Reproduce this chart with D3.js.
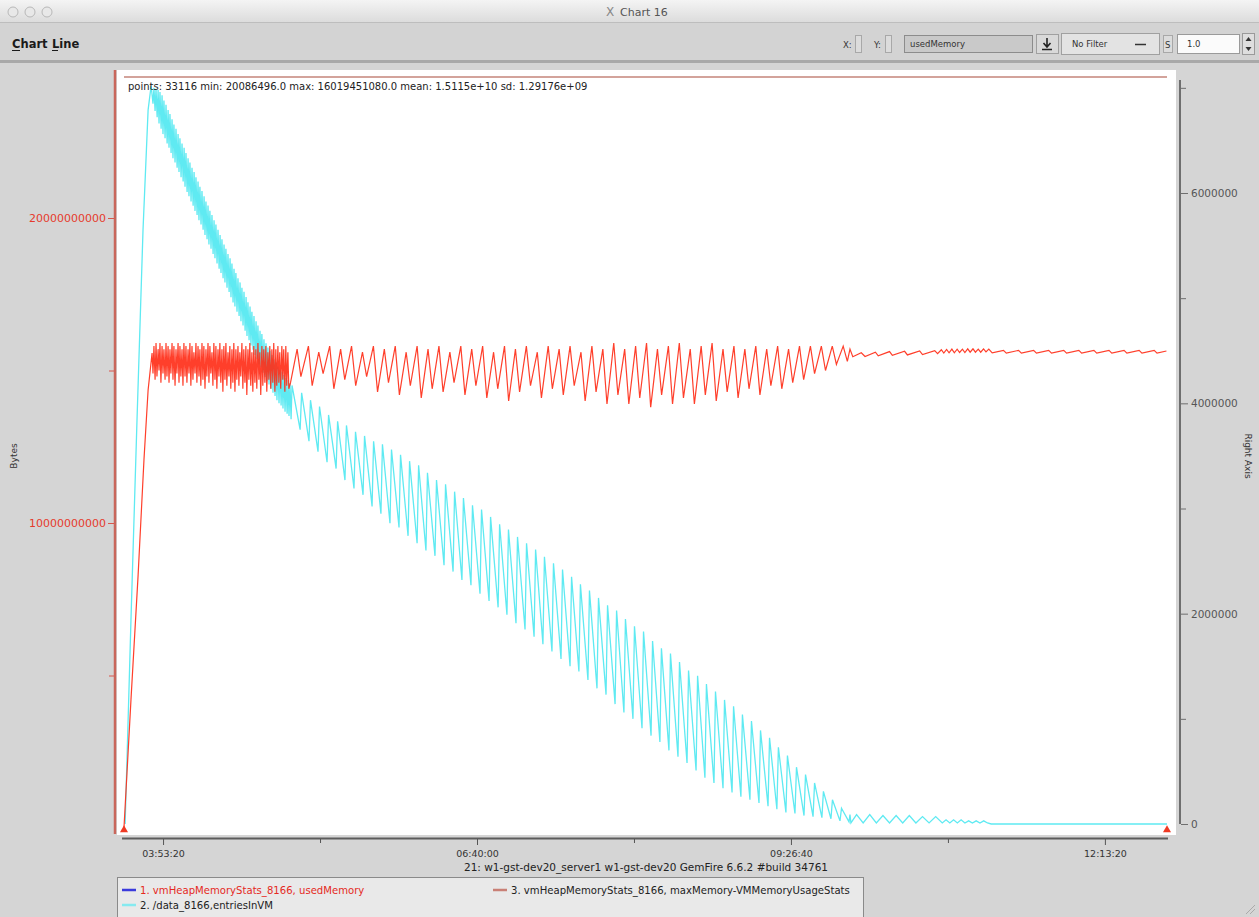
<!DOCTYPE html>
<html>
<head>
<meta charset="utf-8">
<script src="https://cdn.jsdelivr.net/npm/d3@7"></script>
<style>
body { margin: 0; background: #d5d5d5; overflow: hidden; }
text { font-family: "DejaVu Sans", sans-serif; }
</style>
</head>
<body>
<script>
var W = 1259, H = 917;

// time in minutes after midnight, chart start / end
var timeRange = [212.6, 766.3];

// series 1: usedMemory, [minutes, bytes / 1e9]
var usedMemory = [
  [212.6,0.02],[216.3,4.2],[220.1,8.3],[223.2,12.07],[225.4,14.36],[227.5,15.57],
  [228.0,14.9],[228.5,15.8],[229.1,14.7],[229.6,15.9],[230.1,14.8],[230.7,15.7],[231.2,15.0],[231.7,15.9],
  [232.2,14.6],[232.8,15.8],[233.3,14.9],[233.8,15.7],[234.4,14.7],[234.9,15.9],[235.4,14.8],[236.0,15.8],
  [236.5,14.6],[237.0,15.7],[237.5,14.9],[238.1,15.9],[238.6,14.7],[239.1,15.8],[239.7,14.5],[240.2,15.7],
  [240.7,14.9],[241.3,15.9],[241.8,14.6],[242.3,15.8],[242.8,14.8],[243.4,15.7],[243.9,14.5],[244.4,15.9],
  [245.0,14.8],[245.5,15.8],[246.0,14.6],[246.6,15.7],[247.1,14.9],[247.6,15.9],[248.1,14.5],[248.7,15.8],
  [249.2,14.7],[249.7,15.6],[250.3,14.9],[250.8,15.9],[251.3,14.6],[251.9,15.8],[252.4,14.8],[252.9,15.7],
  [253.4,14.5],[254.0,15.9],[254.5,14.7],[255.0,15.8],[255.6,14.4],[256.1,15.7],[256.6,14.8],[257.2,15.9],
  [257.7,14.6],[258.2,15.8],[258.7,14.9],[259.3,15.6],[259.8,14.5],[260.3,15.9],[260.9,14.7],[261.4,15.8],
  [261.9,14.4],[262.5,15.7],[263.0,14.8],[263.5,15.9],[264.0,14.6],[264.6,15.7],[265.1,14.3],[265.6,15.8],
  [266.2,14.7],[266.7,15.9],[267.2,14.5],[267.8,15.6],[268.3,14.8],[268.8,15.8],[269.3,14.4],[269.9,15.7],
  [270.4,14.6],[270.9,15.9],[271.5,14.3],[272.0,15.7],[272.5,14.7],[273.1,15.8],[273.6,14.5],[274.1,15.6],
  [274.6,14.8],[275.2,15.9],[275.7,14.4],[276.2,15.7],[276.8,14.6],[277.3,15.8],[277.8,14.2],[278.4,15.7],
  [278.9,14.7],[279.4,15.9],[279.9,14.5],[280.5,15.6],[281.0,14.3],[281.5,15.8],[282.1,14.6],[282.6,15.7],
  [283.1,14.4],[283.7,15.9],[284.2,14.7],[284.7,15.6],[285.2,14.2],[285.8,15.8],[286.3,14.5],[286.8,15.7],
  [287.4,14.6],[287.9,15.8],[288.4,14.3],[289.0,15.6],[289.5,14.7],[290.0,15.8],[290.5,14.4],[291.1,15.7],
  [291.6,14.6],[292.1,15.9],[292.7,14.3],[293.2,15.7],[293.7,14.5],[294.3,15.8],[294.8,14.6],[295.3,15.6],
  [295.8,14.4],[296.4,15.8],[296.9,14.7],[297.4,15.7],[298.0,14.3],[298.5,15.8],[299.0,14.5],[299.6,15.6],
  [300.1,14.4],
  [301.0,14.6],[304.5,15.7],[306.5,14.8],[310.5,15.8],[312.5,14.5],[316.0,15.6],[318.3,14.9],[321.8,15.8],
  [324.0,14.4],[327.6,15.7],[329.8,14.7],[333.4,15.8],[335.6,14.5],[339.2,15.6],[341.4,14.8],[345.0,15.8],
  [347.2,14.3],[350.8,15.7],[353.0,14.6],[356.6,15.8],[358.8,14.2],[362.4,15.6],[364.6,14.5],[368.2,15.8],
  [370.4,14.1],[374.0,15.7],[376.2,14.4],[379.8,15.8],[382.0,14.3],[385.6,15.6],[387.8,14.6],[391.4,15.8],
  [393.6,14.2],[397.2,15.7],[399.4,14.5],[403.0,15.8],[405.2,14.1],[408.8,15.6],[411.0,14.4],[414.6,15.8],
  [416.8,14.0],[420.4,15.7],[422.6,14.3],[426.2,15.8],[428.4,14.5],[432.0,15.6],[434.2,14.1],[437.8,15.8],
  [440.0,14.4],[443.6,15.7],[445.8,14.2],[449.4,15.8],[451.6,14.5],[455.2,15.6],[457.4,14.0],[461.0,15.8],
  [463.2,14.3],[466.8,15.7],[469.0,13.9],[472.6,15.9],[474.8,14.2],[478.4,15.7],[480.6,13.9],[484.2,15.8],
  [486.4,14.1],[490.0,15.9],[492.2,13.8],[495.8,15.7],[498.0,14.2],[501.6,15.8],[503.8,13.9],[507.4,15.9],
  [509.6,14.1],[513.2,15.7],[515.4,13.9],[519.0,15.8],[521.2,14.2],[524.8,15.9],[527.0,14.0],[530.6,15.7],
  [532.8,14.3],[536.4,15.8],[538.6,14.1],[542.2,15.7],[544.4,14.4],[548.0,15.8],[550.2,14.2],[553.8,15.7],
  [556.0,14.5],[559.6,15.8],[561.8,14.4],[565.4,15.7],[567.6,14.6],[571.2,15.8],[573.4,14.7],[577.0,15.8],
  [579.2,14.9],[582.8,15.8],[585.0,15.0],[588.6,15.8],[590.8,15.2],[594.4,15.8],[596.6,15.3],[598.0,15.7],
  [599.5,15.45],[604.0,15.58],[606.0,15.46],[611.5,15.6],[613.0,15.48],[619.0,15.62],[620.5,15.5],[627.0,15.63],
  [628.5,15.51],[635.0,15.64],[636.5,15.52],[643.0,15.65],[644.5,15.55],
  [646.5,15.68],[647.8,15.57],[649.3,15.69],[650.6,15.58],[652.1,15.7],[653.4,15.58],[654.9,15.7],[656.2,15.59],
  [657.7,15.7],[659.0,15.59],[660.5,15.71],[661.8,15.6],[663.3,15.71],[664.6,15.6],[666.1,15.7],[667.4,15.6],
  [668.9,15.71],[670.2,15.61],[671.7,15.7],
  [673.5,15.58],[679.5,15.66],[681.0,15.57],[687.5,15.66],[689.0,15.57],[695.5,15.66],[697.0,15.57],[703.5,15.66],
  [705.0,15.57],[711.5,15.66],[713.0,15.57],[719.5,15.66],[721.0,15.57],[727.5,15.66],[729.0,15.57],[735.5,15.66],
  [737.0,15.57],[743.5,15.66],[745.0,15.57],[751.5,15.66],[753.0,15.57],[759.5,15.66],[761.0,15.57],[766.0,15.64]
];

// series 2: entriesInVM, [minutes, entries / 1e6]  (right axis)
var entriesInVM = [
  [213.2,0],[216.3,1.94],[219.5,3.84],[222.7,5.65],[225.4,6.79],[227.0,7.02],
  [228.0,6.85],[228.5,7.00],[229.1,6.78],[229.6,6.99],[230.2,6.72],[230.7,6.98],[231.2,6.66],[231.7,6.96],
  [232.3,6.61],[232.8,6.93],[233.3,6.56],[233.8,6.88],[234.4,6.52],[234.9,6.84],[235.5,6.47],[236.0,6.79],
  [236.5,6.43],[237.0,6.75],[237.6,6.38],[238.1,6.70],[238.6,6.33],[239.1,6.65],[239.7,6.29],[240.2,6.61],
  [240.8,6.24],[241.3,6.56],[241.8,6.20],[242.3,6.52],[242.9,6.15],[243.4,6.47],[244.0,6.11],[244.5,6.43],
  [245.0,6.06],[245.5,6.38],[246.1,6.01],[246.6,6.33],[247.1,5.97],[247.6,6.29],[248.2,5.92],[248.7,6.24],
  [249.3,5.88],[249.8,6.20],[250.3,5.83],[250.8,6.15],[251.4,5.79],[251.9,6.11],[252.4,5.74],[252.9,6.06],
  [253.5,5.70],[254.0,6.02],[254.6,5.65],[255.1,5.97],[255.6,5.60],[256.1,5.92],[256.7,5.56],[257.2,5.88],
  [257.7,5.51],[258.2,5.83],[258.8,5.47],[259.3,5.79],[259.9,5.42],[260.4,5.74],[260.9,5.38],[261.4,5.70],
  [262.0,5.33],[262.5,5.65],[263.1,5.28],[263.6,5.60],[264.1,5.24],[264.6,5.56],[265.2,5.19],[265.7,5.51],
  [266.2,5.15],[266.7,5.47],[267.3,5.10],[267.8,5.42],[268.4,5.06],[268.9,5.38],[269.4,5.01],[269.9,5.33],
  [270.5,4.96],[271.0,5.28],[271.5,4.92],[272.0,5.24],[272.6,4.87],[273.1,5.19],[273.7,4.83],[274.2,5.15],
  [274.7,4.78],[275.2,5.10],[275.8,4.74],[276.3,5.06],[276.9,4.69],[277.4,5.01],[277.9,4.64],[278.4,4.96],
  [279.0,4.60],[279.5,4.92],[280.0,4.55],[280.5,4.87],[281.1,4.51],[281.6,4.83],[282.2,4.46],[282.7,4.78],
  [283.2,4.42],[283.7,4.74],[284.3,4.37],[284.8,4.69],[285.3,4.34],[285.8,4.66],[286.4,4.29],[286.9,4.61],
  [287.5,4.25],[288.0,4.57],[288.5,4.21],[289.0,4.53],[289.6,4.18],[290.1,4.50],[290.7,4.14],[291.2,4.46],
  [291.7,4.10],[292.2,4.42],[292.8,4.07],[293.3,4.39],[293.8,4.03],[294.3,4.35],[294.9,4.00],[295.4,4.32],
  [296.0,3.98],[296.5,4.30],[297.0,3.95],[297.5,4.27],[298.1,3.92],[298.6,4.24],[299.2,3.90],[299.7,4.22],
  [300.2,3.88],[300.7,4.19],[301.3,3.85],[301.8,4.17],
  [306.1,3.75],[306.9,4.10],[310.8,3.64],[311.6,4.03],[315.6,3.54],[316.4,3.97],[320.4,3.44],[321.2,3.89],
  [325.2,3.38],[326.0,3.83],[329.9,3.27],[330.7,3.79],[334.7,3.19],[335.5,3.73],[339.5,3.13],[340.3,3.69],
  [344.3,3.02],[345.1,3.64],[349.0,2.95],[349.8,3.61],[353.8,2.86],[354.6,3.56],[358.6,2.82],[359.4,3.51],
  [363.4,2.74],[364.2,3.45],[368.2,2.67],[369.0,3.41],[372.9,2.60],[373.7,3.34],[377.7,2.55],[378.5,3.27],
  [382.5,2.46],[383.3,3.23],[387.3,2.40],[388.1,3.16],[392.0,2.32],[392.8,3.10],[396.8,2.27],[397.6,3.03],
  [401.6,2.19],[402.4,2.99],[406.4,2.12],[407.2,2.92],[411.2,2.06],[412.0,2.85],[415.9,1.99],[416.7,2.80],
  [420.7,1.91],[421.5,2.73],[425.5,1.85],[426.3,2.67],[430.3,1.78],[431.1,2.61],[435.0,1.71],[435.8,2.54],
  [439.8,1.64],[440.6,2.48],[444.6,1.57],[445.4,2.42],[449.4,1.50],[450.2,2.35],[454.1,1.45],[454.9,2.28],
  [458.9,1.37],[459.7,2.22],[463.7,1.29],[464.5,2.15],[468.5,1.23],[469.3,2.08],[473.3,1.14],[474.1,2.03],
  [478.0,1.06],[478.8,1.95],[482.8,1.00],[483.6,1.88],[487.6,0.91],[488.4,1.83],[492.4,0.84],[493.2,1.74],
  [497.1,0.78],[497.9,1.67],[501.9,0.70],[502.7,1.62],[506.7,0.64],[507.5,1.54],[511.5,0.58],[512.3,1.46],
  [516.3,0.51],[517.1,1.41],[521.0,0.44],[521.8,1.33],[525.8,0.39],[526.6,1.26],[530.6,0.34],[531.4,1.18],
  [535.4,0.30],[536.2,1.12],[540.1,0.26],[540.9,1.04],[544.9,0.23],[545.7,0.98],[549.7,0.20],[550.5,0.89],
  [554.5,0.17],[555.3,0.82],[559.2,0.14],[560.0,0.73],[564.0,0.11],[564.8,0.65],[568.8,0.10],[569.6,0.54],
  [573.6,0.08],[574.4,0.47],[578.4,0.07],[579.2,0.39],[583.1,0.06],[583.9,0.31],[587.9,0.05],[588.7,0.23],
  [592.7,0.03],[593.5,0.15],[597.5,0.02],[598.0,0.09],
  [598.5,0.01],[601.5,0.09],[605.0,0.01],[608.5,0.09],[612.0,0.01],[615.5,0.08],[619.0,0.01],[622.5,0.08],
  [626.0,0.01],[629.5,0.08],[633.0,0.01],[636.5,0.07],[640.0,0.01],[643.5,0.07],[647.0,0.01],
  [649.0,0.04],[651.0,0.01],[653.0,0.04],[655.0,0.01],[657.0,0.04],[659.0,0.01],[661.0,0.03],[663.0,0.01],
  [665.0,0.03],[667.0,0.01],[669.0,0.03],[671.0,0.01],[673.0,0],[766.3,0]
];

// series 3: maxMemory, [minutes, bytes / 1e9]
var maxMemory = [[212.6,24.62],[766.3,24.62]];

var leftTicks = [10000000000, 20000000000];
var leftMinor = [5000000000, 15000000000];
var rightTicks = [0, 2000000, 4000000, 6000000];
var rightMinor = [1000000, 3000000, 5000000, 7000000];
var xTicks = ['03:53:20', '06:40:00', '09:26:40', '12:13:20'];
var xMinor = ['05:16:40', '08:03:20', '10:50:00'];

var legendItems = [
  {label: '1. vmHeapMemoryStats_8166, usedMemory', swatch: '#3b3bdc', text: '#e52a1e', col: 0, row: 0},
  {label: '2. /data_8166,entriesInVM', swatch: '#86eaf0', text: '#222', col: 0, row: 1},
  {label: '3. vmHeapMemoryStats_8166, maxMemory-VMMemoryUsageStats', swatch: '#c98076', text: '#222', col: 1, row: 0}
];

var statsText = 'points: 33116 min: 20086496.0 max: 16019451080.0 mean: 1.5115e+10 sd: 1.29176e+09';
var footerText = '21: w1-gst-dev20_server1 w1-gst-dev20 GemFire 6.6.2 #build 34761';

function toMinutes(s) {
  var p = s.split(':').map(Number);
  return p[0] * 60 + p[1] + p[2] / 60;
}

var svg = d3.select('body').append('svg')
  .attr('width', W)
  .attr('height', H);

// ---- window chrome ----
var grad = svg.append('defs').append('linearGradient')
  .attr('id', 'tbar').attr('x1', 0).attr('y1', 0).attr('x2', 0).attr('y2', 1);
grad.append('stop').attr('offset', 0).attr('stop-color', '#f4f4f4');
grad.append('stop').attr('offset', 1).attr('stop-color', '#dcdcdc');

svg.append('rect').attr('x', 0).attr('y', 0).attr('width', W).attr('height', 22).attr('fill', 'url(#tbar)');
svg.selectAll('circle.light')
  .data([13, 30, 47])
  .enter()
  .append('circle')
  .attr('class', 'light')
  .attr('cx', function(d){ return d; })
  .attr('cy', 12)
  .attr('r', 5)
  .attr('fill', '#e8e8e8')
  .attr('stroke', '#b8b8b8');
svg.append('text').attr('x', 606).attr('y', 16).attr('font-family', 'DejaVu Serif')
  .attr('font-size', 12).attr('fill', '#888').text('X');
svg.append('text').attr('x', 620).attr('y', 16).attr('font-size', 11).attr('fill', '#555').text('Chart 16');

svg.append('rect').attr('x', 0).attr('y', 22).attr('width', W).attr('height', 40).attr('fill', '#d3d3d3');
svg.append('line').attr('x1', 0).attr('x2', W).attr('y1', 22.5).attr('y2', 22.5).attr('stroke', '#bdbdbd');
svg.append('rect').attr('x', 0).attr('y', 60).attr('width', W).attr('height', 3).attr('fill', '#a9a9a9');

var menu = [['Chart', 12, 8], ['Line', 52, 6]];
menu.forEach(function(m){
  svg.append('text').attr('x', m[1]).attr('y', 48)
    .attr('font-family', 'Liberation Sans, Arial').attr('font-weight', 'bold')
    .attr('font-size', 11.5).attr('fill', '#1a1a1a').text(m[0]);
  svg.append('line').attr('x1', m[1]).attr('x2', m[1] + m[2]).attr('y1', 50.5).attr('y2', 50.5)
    .attr('stroke', '#1a1a1a');
});

// toolbar controls on the right
var tb = svg.append('g').attr('font-size', 8.5).attr('fill', '#333');
tb.append('text').attr('x', 843).attr('y', 48).text('X:');
tb.append('rect').attr('x', 855.5).attr('y', 35.5).attr('width', 6).attr('height', 17).attr('fill', '#dcdcdc').attr('stroke', '#a8a8a8');
tb.append('text').attr('x', 874).attr('y', 48).text('Y:');
tb.append('rect').attr('x', 885.5).attr('y', 35.5).attr('width', 6).attr('height', 17).attr('fill', '#dcdcdc').attr('stroke', '#a8a8a8');
tb.append('rect').attr('x', 904.5).attr('y', 35.5).attr('width', 128).attr('height', 17).attr('fill', '#c9c9c9').attr('stroke', '#8c8c8c');
tb.append('text').attr('x', 910).attr('y', 47).text('usedMemory');
tb.append('rect').attr('x', 1036.5).attr('y', 34.5).attr('width', 22).attr('height', 19).attr('fill', '#d9d9d9').attr('stroke', '#a0a0a0');
tb.append('path').attr('d', 'M1047,38 v8 M1043.5,43 l3.5,4 l3.5,-4 M1042,49.5 h10').attr('stroke', '#222').attr('stroke-width', 1.6).attr('fill', 'none');
tb.append('rect').attr('x', 1061.5).attr('y', 33.5).attr('width', 98).attr('height', 21).attr('fill', '#e3e3e3').attr('stroke', '#a0a0a0');
tb.append('text').attr('x', 1072).attr('y', 47).text('No Filter');
tb.append('line').attr('x1', 1135).attr('x2', 1146).attr('y1', 44.5).attr('y2', 44.5).attr('stroke', '#333').attr('stroke-width', 1.5);
tb.append('rect').attr('x', 1163.5).attr('y', 35.5).attr('width', 9).attr('height', 17).attr('fill', '#dcdcdc').attr('stroke', '#a8a8a8');
tb.append('text').attr('x', 1165).attr('y', 48).text('S');
tb.append('rect').attr('x', 1177.5).attr('y', 34.5).attr('width', 62).attr('height', 19).attr('fill', '#fbfbfb').attr('stroke', '#9a9a9a');
tb.append('text').attr('x', 1187).attr('y', 47).text('1.0');
tb.append('rect').attr('x', 1242.5).attr('y', 33.5).attr('width', 12).attr('height', 21).attr('fill', '#dedede').attr('stroke', '#9a9a9a');
tb.append('path').attr('d', 'M1245.5,41 l3,-4 l3,4 z M1245.5,47 l3,4 l3,-4 z').attr('fill', '#333');

// ---- plot area ----
var x = d3.scaleLinear().domain(timeRange).range([124, 1167]);
var yLeft = d3.scaleLinear().domain([0, 20000000000]).range([828, 218]);
var yRight = d3.scaleLinear().domain([0, 6000000]).range([824, 193]);

svg.append('rect').attr('x', 117).attr('y', 70).attr('width', 1059).attr('height', 765).attr('fill', '#ffffff');

var lineLeft = d3.line()
  .x(function(d){ return x(d[0]); })
  .y(function(d){ return yLeft(d[1] * 1e9); });
var lineRight = d3.line()
  .x(function(d){ return x(d[0]); })
  .y(function(d){ return yRight(d[1] * 1e6); });

svg.append('path').datum(maxMemory)
  .attr('d', lineLeft).attr('fill', 'none').attr('stroke', '#c4857a').attr('stroke-width', 1.5);

svg.append('path').datum(entriesInVM)
  .attr('d', lineRight).attr('fill', 'none').attr('stroke', '#5feaf2').attr('stroke-width', 1.3);

svg.append('path').datum(usedMemory)
  .attr('d', lineLeft).attr('fill', 'none').attr('stroke', '#ff2a14').attr('stroke-width', 1.2)
  .attr('stroke-opacity', 0.9);

svg.append('text').attr('x', 128).attr('y', 90).attr('font-size', 10).attr('fill', '#222').text(statsText);

// range markers
svg.selectAll('path.marker')
  .data(timeRange)
  .enter()
  .append('path')
  .attr('class', 'marker')
  .attr('d', d3.symbol().type(d3.symbolTriangle).size(28))
  .attr('transform', function(d){ return 'translate(' + x(d) + ',830)'; })
  .attr('fill', '#ef3a24');

// ---- left axis ----
svg.append('line').attr('x1', 115).attr('x2', 115).attr('y1', 70).attr('y2', 834)
  .attr('stroke', '#c9675c').attr('stroke-width', 2.5);

var gl = svg.append('g').attr('transform', 'translate(114,0)')
  .call(d3.axisLeft(yLeft).tickValues(leftTicks).tickSize(6).tickPadding(2).tickFormat(d3.format('d')));
gl.select('.domain').remove();
gl.selectAll('line').attr('stroke', '#d9574c');
gl.selectAll('text').attr('fill', '#e53a2c').attr('font-size', 11).attr('font-family', 'DejaVu Sans');

var glm = svg.append('g').attr('transform', 'translate(114,0)')
  .call(d3.axisLeft(yLeft).tickValues(leftMinor).tickSize(5).tickFormat(''));
glm.select('.domain').remove();
glm.selectAll('line').attr('stroke', '#d9574c');

svg.append('text').attr('transform', 'translate(17,456) rotate(-90)')
  .attr('text-anchor', 'middle').attr('font-size', 9).attr('fill', '#333').text('Bytes');

// ---- right axis ----
svg.append('line').attr('x1', 1180).attr('x2', 1180).attr('y1', 80).attr('y2', yRight(0))
  .attr('stroke', '#6e6e6e').attr('stroke-width', 2);

var gr = svg.append('g').attr('transform', 'translate(1181,0)')
  .call(d3.axisRight(yRight).tickValues(rightTicks).tickSize(7).tickPadding(3).tickFormat(d3.format('d')));
gr.select('.domain').remove();
gr.selectAll('line').attr('stroke', '#6e6e6e');
gr.selectAll('text').attr('fill', '#555').attr('font-size', 10.5).attr('font-family', 'DejaVu Sans');

var grm = svg.append('g').attr('transform', 'translate(1181,0)')
  .call(d3.axisRight(yRight).tickValues(rightMinor).tickSize(5).tickFormat(''));
grm.select('.domain').remove();
grm.selectAll('line').attr('stroke', '#6e6e6e');

svg.append('text').attr('transform', 'translate(1245,456) rotate(90)')
  .attr('text-anchor', 'middle').attr('font-size', 9).attr('fill', '#333').text('Right Axis');

// ---- bottom axis ----
svg.append('line').attr('x1', 122).attr('x2', 1168).attr('y1', 838.5).attr('y2', 838.5)
  .attr('stroke', '#5c5c5c').attr('stroke-width', 2);

var gx = svg.append('g').attr('transform', 'translate(0,839)')
  .call(d3.axisBottom(x).tickValues(xTicks.map(toMinutes)).tickSize(6).tickPadding(5)
    .tickFormat(function(d, i){ return xTicks[i]; }));
gx.select('.domain').remove();
gx.selectAll('line').attr('stroke', '#555');
gx.selectAll('text').attr('fill', '#333').attr('font-size', 9.5).attr('font-family', 'DejaVu Sans');

var gxm = svg.append('g').attr('transform', 'translate(0,839)')
  .call(d3.axisBottom(x).tickValues(xMinor.map(toMinutes)).tickSize(4).tickFormat(''));
gxm.select('.domain').remove();
gxm.selectAll('line').attr('stroke', '#555');

svg.append('text').attr('x', 646).attr('y', 871).attr('text-anchor', 'middle')
  .attr('font-size', 10.5).attr('fill', '#222').text(footerText);

// ---- legend ----
svg.append('rect').attr('x', 117.5).attr('y', 877.5).attr('width', 746).attr('height', 45)
  .attr('fill', '#e9e9e9').attr('stroke', '#8a8a8a');

var lg = svg.selectAll('g.leg')
  .data(legendItems)
  .enter()
  .append('g')
  .attr('class', 'leg')
  .attr('transform', function(d){ return 'translate(' + (d.col ? 493 : 122) + ',' + (890 + d.row * 15) + ')'; });
lg.append('line').attr('x1', 0).attr('x2', 14).attr('y1', 0).attr('y2', 0)
  .attr('stroke', function(d){ return d.swatch; }).attr('stroke-width', 2.5);
lg.append('text').attr('x', 18).attr('y', 3.5).attr('font-size', 10.1)
  .attr('fill', function(d){ return d.text; }).text(function(d){ return d.label; });

// resize grip
svg.append('path').attr('d', 'M1246,914 l9,-9 M1250,914 l5,-5').attr('stroke', '#aaa');
</script>
</body>
</html>
